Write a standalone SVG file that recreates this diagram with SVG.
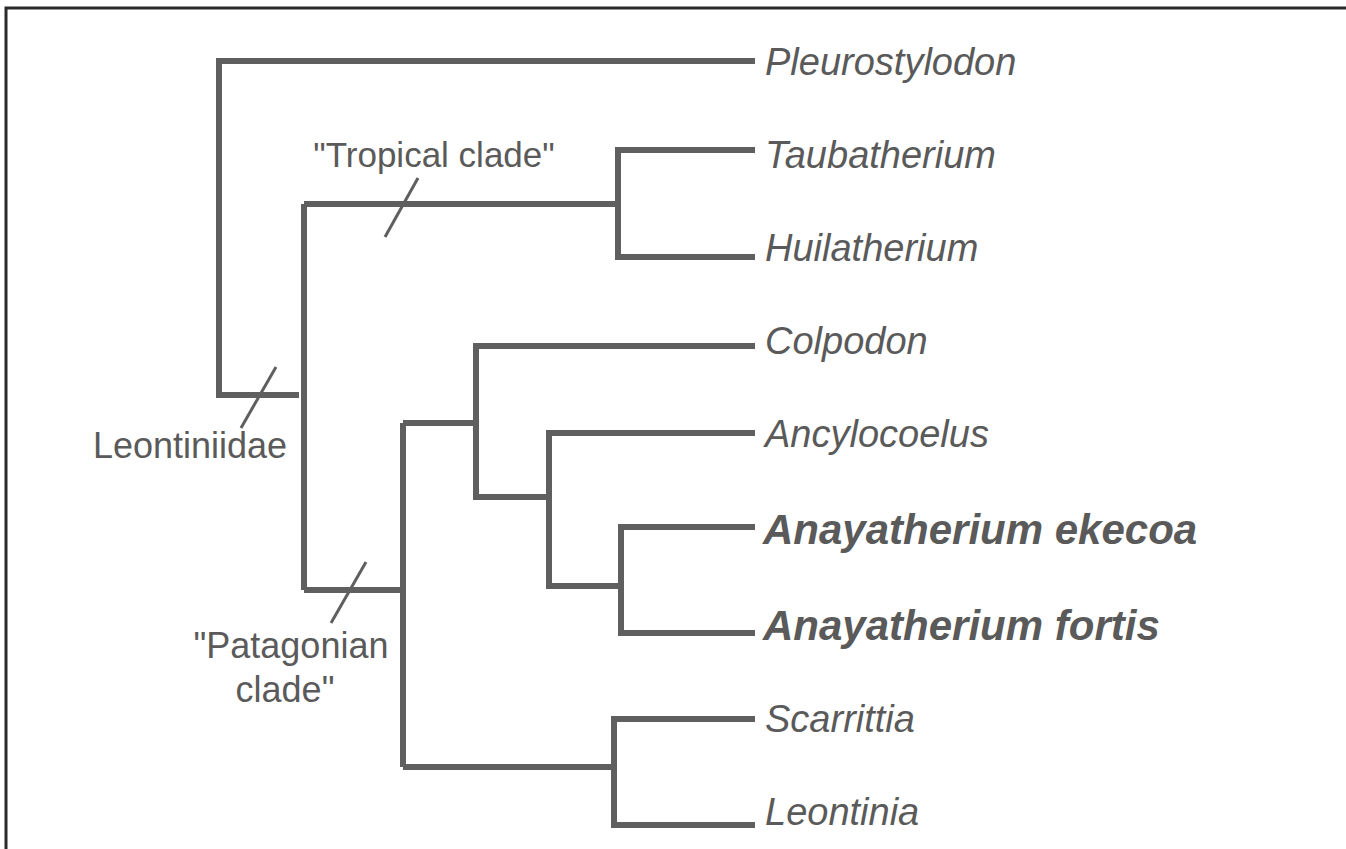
<svg xmlns="http://www.w3.org/2000/svg" width="1346" height="849" viewBox="0 0 1346 849">
<style>
.br{fill:none;stroke:#5f5f5f;stroke-width:6;stroke-linejoin:miter;stroke-linecap:butt}
.tk{stroke:#5f5f5f;stroke-width:3}
.tx{font-family:"Liberation Sans",Arial,sans-serif;font-size:38px;font-style:italic;fill:#5a5a5a}
.bd{font-weight:bold;font-size:42px}
.cl{font-family:"Liberation Sans",Arial,sans-serif;font-size:36px;fill:#5a5a5a;text-anchor:middle}
</style>
<rect width="1346" height="849" fill="#ffffff"/>
<rect x="6" y="8" width="1400" height="900" fill="none" stroke="#2a2a2a" stroke-width="3"/>
<g id="connectors">
<path class="br" d="M755,61 H219 V395 H299"/>
<path class="br" d="M304,204 V590"/>
<path class="br" d="M304,204 H618"/>
<path class="br" d="M755,150 H618 V257 H755"/>
<path class="br" d="M304,590 H403"/>
<path class="br" d="M403,423 V767"/>
<path class="br" d="M403,423 H476"/>
<path class="br" d="M755,346 H476 V497 H549"/>
<path class="br" d="M755,433 H549 V586 H621"/>
<path class="br" d="M755,527 H621 V633 H755"/>
<path class="br" d="M403,767 H614"/>
<path class="br" d="M755,719 H614 V825 H755"/>
<line class="tk" x1="385" y1="237" x2="418" y2="178"/>
<line class="tk" x1="241" y1="428" x2="276" y2="367"/>
<line class="tk" x1="331" y1="623" x2="366" y2="562"/>
</g>
<g id="n-pleurostylodon"><text class="tx" x="765" y="75">Pleurostylodon</text></g>
<g id="n-taubatherium"><text class="tx" x="765" y="168">Taubatherium</text></g>
<g id="n-huilatherium"><text class="tx" x="765" y="261">Huilatherium</text></g>
<g id="n-colpodon"><text class="tx" x="765" y="354">Colpodon</text></g>
<g id="n-ancylocoelus"><text class="tx" x="765" y="447">Ancylocoelus</text></g>
<g id="n-ekecoa"><text class="tx bd" x="763" y="544">Anayatherium ekecoa</text></g>
<g id="n-fortis"><text class="tx bd" x="763" y="640">Anayatherium fortis</text></g>
<g id="n-scarrittia"><text class="tx" x="765" y="732">Scarrittia</text></g>
<g id="n-leontinia"><text class="tx" x="765" y="825">Leontinia</text></g>
<g id="l-tropical"><text class="cl" x="434" y="167" style="font-size:35px">"Tropical clade"</text></g>
<g id="l-leontiniidae"><text class="cl" x="190" y="458">Leontiniidae</text></g>
<g id="l-patagonian"><text class="cl" x="291" y="658">"Patagonian</text><text class="cl" x="285" y="702">clade"</text></g>
</svg>
